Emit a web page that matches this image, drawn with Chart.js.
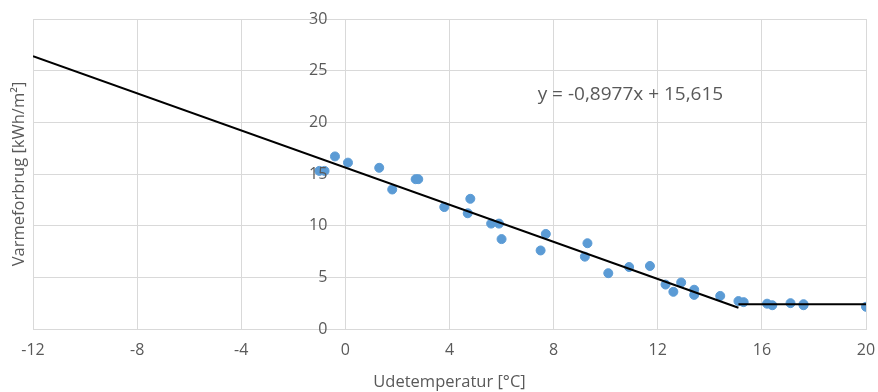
<!DOCTYPE html>
<html>
<head>
<meta charset="utf-8">
<script src="https://cdn.jsdelivr.net/npm/chart.js@4/dist/chart.umd.min.js"></script>
<style>
  html, body { margin: 0; padding: 0; background: #fff; }
  #wrap { width: 878px; height: 392px; }
</style>
</head>
<body>
<div id="wrap"><canvas id="graf"></canvas></div>
<script>
// maalte punkter: udetemperatur og varmeforbrug
const udetemp = [-1.0, -0.8, -0.4, 0.1, 1.3, 1.8, 2.7, 2.8, 3.8, 4.7, 4.8, 5.6, 5.9, 6.0,
  7.5, 7.7, 9.2, 9.3, 10.1, 10.9, 11.7, 12.3, 12.6, 12.9, 13.4, 13.4, 14.4,
  15.1, 15.3, 16.2, 16.4, 17.1, 17.6, 17.6, 20.0];
const varme = [15.3, 15.3, 16.7, 16.1, 15.6, 13.5, 14.5, 14.5, 11.8, 11.2, 12.6, 10.2, 10.2, 8.7,
  7.6, 9.2, 7.0, 8.3, 5.4, 6.0, 6.1, 4.3, 3.6, 4.5, 3.8, 3.3, 3.2,
  2.7, 2.6, 2.45, 2.3, 2.5, 2.4, 2.3, 2.15];

// tendenslinje (endepunkter) og vandret linje over 15 grader
const trendX = [-12, 15.1];
const trendY = [26.39, 2.06];
const fladX = [15.1, 20];
const fladY = [2.4, 2.4];

const xTicks = [-12, -8, -4, 0, 4, 8, 12, 16, 20];
const yTicks = [0, 5, 10, 15, 20, 25, 30];
const ligning = 'y = -0,8977x + 15,615';

const FONT = "'Open Sans', sans-serif";
const TXT = '#595959';
const GRID = '#d9d9d9';

function punkter(xs, ys) {
  return xs.map(function (x, i) { return { x: x, y: ys[i] }; });
}

const tekstPlugin = {
  id: 'tekst',
  afterDraw: function (chart) {
    const ctx = chart.ctx;
    const area = chart.chartArea;
    const sx = chart.scales.x;
    const sy = chart.scales.y;

    // y-aksens tal, til venstre for aksen ved x = 0
    ctx.save();
    ctx.fillStyle = TXT;
    ctx.font = '16px ' + FONT;
    ctx.textAlign = 'right';
    ctx.textBaseline = 'middle';
    const ax = sx.getPixelForValue(0);
    yTicks.forEach(function (v) {
      ctx.fillText(String(v), ax - 18, sy.getPixelForValue(v));
    });
    ctx.restore();

    ctx.save();
    ctx.fillStyle = TXT;
    ctx.font = '16.5px ' + FONT;
    ctx.textAlign = 'center';
    ctx.textBaseline = 'middle';
    ctx.translate(19, (area.top + area.bottom) / 2);
    ctx.rotate(-Math.PI / 2);
    ctx.fillText('Varmeforbrug [kWh/m²]', 0, 0);
    ctx.restore();

    // ligningen for tendenslinjen
    ctx.save();
    ctx.fillStyle = TXT;
    ctx.font = '19px ' + FONT;
    ctx.textAlign = 'center';
    ctx.textBaseline = 'middle';
    ctx.fillText(ligning, sx.getPixelForValue(10.95), sy.getPixelForValue(22.65));
    ctx.restore();
  }
};

new Chart(document.getElementById('graf'), {
  type: 'scatter',
  data: {
    datasets: [
      {
        label: 'Maalinger',
        data: punkter(udetemp, varme),
        backgroundColor: '#5b9bd5',
        borderColor: '#5b9bd5',
        pointRadius: 4.5,
        order: 2
      },
      {
        label: 'Tendens',
        type: 'line',
        data: punkter(trendX, trendY),
        borderColor: '#000',
        borderWidth: 2,
        pointRadius: 0,
        fill: false,
        order: 1
      },
      {
        label: 'Flad',
        type: 'line',
        data: punkter(fladX, fladY),
        borderColor: '#000',
        borderWidth: 2,
        pointRadius: 0,
        fill: false,
        order: 1
      }
    ]
  },
  options: {
    responsive: true,
    maintainAspectRatio: false,
    animation: false,
    layout: { padding: { left: 33, right: 12, top: 19, bottom: 0 } },
    plugins: {
      legend: { display: false },
      tooltip: { enabled: false }
    },
    scales: {
      x: {
        type: 'linear',
        min: -12,
        max: 20,
        afterBuildTicks: function (s) { s.ticks = xTicks.map(function (v) { return { value: v }; }); },
        afterFit: function (s) { s.paddingLeft = 0; s.paddingRight = 0; },
        grid: { color: GRID, drawTicks: false },
        border: { color: GRID },
        ticks: { color: TXT, font: { family: FONT, size: 16 }, padding: 12 },
        title: {
          display: true,
          text: 'Udetemperatur [°C]',
          color: TXT,
          font: { family: FONT, size: 16.5 },
          padding: { top: 0, bottom: 0 }
        }
      },
      y: {
        type: 'linear',
        min: 0,
        max: 30,
        position: { x: 0 },
        afterBuildTicks: function (s) { s.ticks = yTicks.map(function (v) { return { value: v }; }); },
        grid: { color: GRID, drawTicks: false },
        border: { color: GRID },
        ticks: { display: false }
      }
    }
  },
  plugins: [tekstPlugin]
});
</script>
</body>
</html>
